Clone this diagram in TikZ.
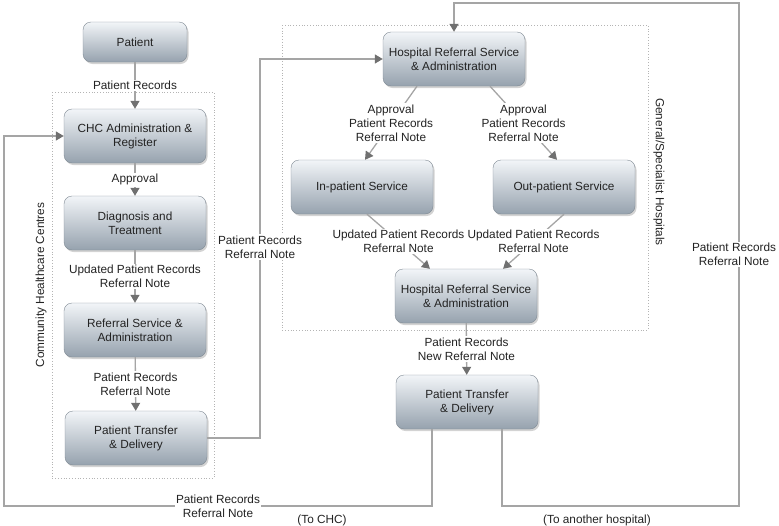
\documentclass[tikz,border=0pt]{standalone}
\usepackage{fontspec}
\setmainfont{Liberation Sans}
\usepackage{tikz}
\usetikzlibrary{arrows.meta, positioning, shadows}
\definecolor{boxtop}{RGB}{242, 245, 248}
\definecolor{boxbottom}{RGB}{150, 162, 174}
\definecolor{boxborder}{RGB}{128, 138, 148}
\definecolor{linecolor}{RGB}{165, 165, 165}
\definecolor{tipcolor}{RGB}{112, 112, 112}
\definecolor{framecolor}{RGB}{180, 180, 180}
\definecolor{textcolor}{RGB}{35, 35, 35}

\begin{document}
\begin{tikzpicture}[x=1pt, y=-1pt,
    procbox/.style={draw=boxborder, top color=boxtop, bottom color=boxbottom, rounded corners=8pt,
        minimum width=142pt, minimum height=54pt, align=center, text=textcolor,
        font=\fontsize{11.8}{14}\selectfont,
        drop shadow={shadow xshift=1.5pt, shadow yshift=-2pt, opacity=0.35}},
    flowline/.style={draw=linecolor, line width=1.3pt, -{Triangle[length=8pt, width=9pt, color=tipcolor]}},
    flowlabel/.style={fill=white, align=center, inner sep=1.5pt, text=textcolor, font=\fontsize{11.8}{14}\selectfont},
    grouplabel/.style={text=textcolor, font=\fontsize{11.8}{14}\selectfont},
    groupframe/.style={draw=framecolor, dotted, line width=0.8pt}]
    \useasboundingbox (0,0) rectangle (779,525);

    % Group frames
    \draw[groupframe] (52,92) rectangle (214,478);
    \draw[groupframe] (282,25) rectangle (648,330);
    \node[grouplabel, rotate=90] (chclabel) at (41,285) {Community Healthcare Centres};
    \node[grouplabel, rotate=-90] (hosplabel) at (659,172) {General/Specialist Hospitals};

    % Community healthcare centre
    \node[procbox, minimum width=104pt, minimum height=40pt] (patient) at (135,42) {Patient};
    \node[procbox] (chcadmin) at (135,136) {CHC Administration \&\\Register};
    \node[procbox] (diagnosis) at (135,223) {Diagnosis and\\Treatment};
    \node[procbox] (referral) at (135,330) {Referral Service \&\\Administration};
    \node[procbox] (transferL) at (136,438) {Patient Transfer\\\& Delivery};

    % Hospitals
    \node[procbox] (hospadm) at (454,59) {Hospital Referral Service\\\& Administration};
    \node[procbox] (inpatient) at (362,187) {In-patient Service};
    \node[procbox] (outpatient) at (564,187) {Out-patient Service};
    \node[procbox] (hospref) at (466,296) {Hospital Referral Service\\\& Administration};
    \node[procbox] (transferR) at (467,402) {Patient Transfer\\\& Delivery};

    % Loop corners
    \coordinate (jog) at (260,247);
    \coordinate (loopL) at (4,506);
    \coordinate (loopR) at (739,506);
    \coordinate (loopT) at (739,3);

    % CHC flow
    \draw[flowline] (patient) -- node[flowlabel]{Patient Records} (chcadmin);
    \draw[flowline] (chcadmin) -- node[flowlabel]{Approval} (diagnosis);
    \draw[flowline] (diagnosis) -- node[flowlabel]{Updated Patient Records\\Referral Note} (referral);
    \draw[flowline] (referral) -- node[flowlabel]{Patient Records\\Referral Note} (transferL);
    \draw[flowline] (transferL.east) -| (jog) node[flowlabel]{Patient Records\\Referral Note} |- (hospadm.west);

    % Hospital flow
    \draw[flowline] ([xshift=-37pt]hospadm.south) -- node[flowlabel]{Approval\\Patient Records\\Referral Note} ([xshift=3pt]inpatient.north);
    \draw[flowline] ([xshift=36pt]hospadm.south) -- node[flowlabel]{Approval\\Patient Records\\Referral Note} ([xshift=-7pt]outpatient.north);
    \draw[flowline] ([xshift=5pt]inpatient.south) -- node[flowlabel]{Updated Patient Records\\Referral Note} ([xshift=-36pt]hospref.north);
    \draw[flowline] (outpatient.south) -- node[flowlabel]{Updated Patient Records\\Referral Note} ([xshift=37pt]hospref.north);
    \draw[flowline] (hospref) -- node[flowlabel]{Patient Records\\New Referral Note} (transferR);

    % Return loops
    \draw[flowline] ([xshift=-35pt]transferR.south) |- node[flowlabel, pos=0.75]{Patient Records\\Referral Note} (loopL) |- (chcadmin.west);
    \draw[flowline] ([xshift=35pt]transferR.south) |- (loopR) -- node[flowlabel, xshift=-5pt]{Patient Records\\Referral Note} (loopT) -| (hospadm.north);
    \node[grouplabel] (tochc) at (322,520) {(To CHC)};
    \node[grouplabel] (toother) at (597,520) {(To another hospital)};

\end{tikzpicture}
\end{document}
